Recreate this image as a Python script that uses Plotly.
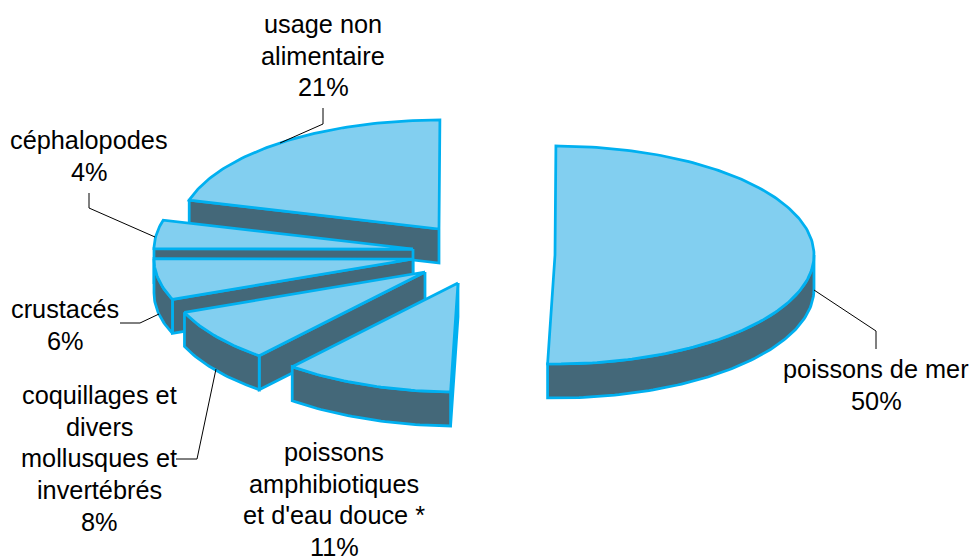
import math
import plotly.graph_objects as go

categories = ["poissons de mer", "poissons<br>amphibiotiques<br>et d'eau douce *",
              "coquillages et<br>divers<br>mollusques et<br>invertébrés", "crustacés",
              "céphalopodes", "usage non<br>alimentaire"]
values = [50.4, 10.6, 7.9, 6.1, 4.2, 20.8]

# Layout of the exploded 3-D pie (pixel space)
apex_x = [555, 458, 425, 413, 413, 439]
apex_y = [255, 283, 272, 259, 249, 229]
RX, RY, DEPTH = 259, 109, 34
START_DEG = 0.2
label_x = [876, 334, 99, 65, 89, 323]
label_first_y = [369, 452, 395, 309, 140, 24]
LINE_STEP = 31.7
leader_x = [[814, 876, 876], [], [176, 197, 216], [120, 140, 159], [89, 89, 155], [323, 323, 280]]
leader_y = [[290, 331, 349], [], [459, 459, 369], [323, 323, 314], [193, 208, 237], [108, 124, 143]]

TOP = "#82CFF0"
WALL = "#446879"
EDGE = "#00B0F0"
W, H = 972, 558
FONT = dict(family="Liberation Sans, Arial, sans-serif", size=25.3, color="#000000")

fig = go.Figure()


def poly(xs, ys, fill):
    fig.add_trace(go.Scatter(x=xs, y=ys, mode="lines", fill="toself", fillcolor=fill,
                             line=dict(color=EDGE, width=2.75), hoverinfo="skip", showlegend=False))


def rim(cx, cy, a0, a1, dy=0.0):
    n = max(2, int(abs(a1 - a0)) + 2)
    xs, ys = [], []
    for i in range(n):
        t = math.radians(a0 + (a1 - a0) * i / (n - 1))
        xs.append(cx + RX * math.sin(t))
        ys.append(cy - RY * math.cos(t) + dy)
    return xs, ys


total = sum(values)
bounds = [START_DEG]
for v in values:
    bounds.append(bounds[-1] + 360.0 * v / total)

# Painter's order: back slices first
for i in reversed(range(len(values))):
    a0, a1 = bounds[i], bounds[i + 1]
    cx, cy = apex_x[i], apex_y[i]
    # radial wall on the leading edge
    if 180 < a0 < 360:
        ex, ey = rim(cx, cy, a0, a0)
        poly([cx, ex[0], ex[0], cx, cx], [cy, ey[0], ey[0] + DEPTH, cy + DEPTH, cy], WALL)
    # outer wall, where the rim faces the viewer
    lo, hi = max(a0, 90), min(a1, 270)
    if hi > lo:
        tx, ty = rim(cx, cy, lo, hi)
        bx, by = rim(cx, cy, hi, lo, DEPTH)
        poly(tx + bx + [tx[0]], ty + by + [ty[0]], WALL)
    # top face
    tx, ty = rim(cx, cy, a0, a1)
    poly([cx] + tx + [cx], [cy] + ty + [cy], TOP)

# Leader lines
for lx, ly in zip(leader_x, leader_y):
    if lx:
        fig.add_trace(go.Scatter(x=lx, y=ly, mode="lines", line=dict(color="#000000", width=1),
                                 hoverinfo="skip", showlegend=False))

for c, v, x, y in zip(categories, values, label_x, label_first_y):
    lines = c.split("<br>") + [f"{v:.0f}%"]
    for k, line in enumerate(lines):
        fig.add_annotation(x=x, y=y + k * LINE_STEP, text=line, showarrow=False, xanchor="center",
                           yanchor="middle", align="center", font=FONT)

fig.update_layout(width=W, height=H, margin=dict(l=0, r=0, t=0, b=0),
                  paper_bgcolor="#ffffff", plot_bgcolor="#ffffff", showlegend=False,
                  xaxis=dict(range=[0, W], visible=False, fixedrange=True),
                  yaxis=dict(range=[H, 0], visible=False, fixedrange=True))
fig.write_html("out.html", config={"displayModeBar": False},
               post_script="document.body.style.margin='0';document.body.style.overflow='hidden';")
